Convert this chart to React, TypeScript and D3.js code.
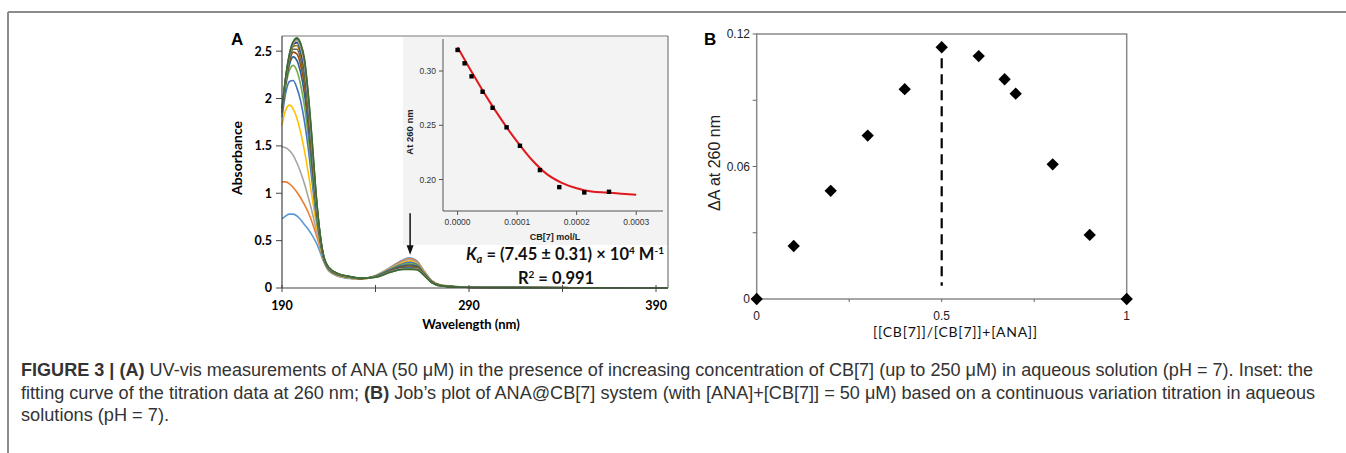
import React from 'react';
import * as d3 from 'd3';

// ---- panel A: UV-vis spectra (nm, absorbance) ----
const wavelengths = [190, 192, 194, 196, 198, 200, 202, 204, 206, 208, 210, 212, 215, 220, 226, 232, 240, 248, 254, 258, 262, 266, 270, 275, 285, 300, 396];

const absorbanceSeries: number[][] = [
  [0.73, 0.76, 0.78, 0.78, 0.76, 0.72, 0.67, 0.62, 0.56, 0.49, 0.40, 0.29, 0.18, 0.125, 0.10, 0.093, 0.13, 0.22, 0.29, 0.32, 0.29, 0.18, 0.08, 0.03, 0.012, 0.006, 0],
  [1.12, 1.12, 1.10, 1.06, 1.01, 0.95, 0.88, 0.80, 0.70, 0.58, 0.45, 0.31, 0.185, 0.128, 0.103, 0.095, 0.13, 0.215, 0.28, 0.31, 0.28, 0.175, 0.078, 0.03, 0.012, 0.006, 0],
  [1.49, 1.48, 1.45, 1.40, 1.32, 1.22, 1.10, 0.96, 0.81, 0.64, 0.48, 0.32, 0.19, 0.13, 0.106, 0.097, 0.13, 0.21, 0.27, 0.30, 0.27, 0.17, 0.075, 0.029, 0.012, 0.006, 0],
  [1.72, 1.88, 1.93, 1.89, 1.79, 1.64, 1.45, 1.22, 0.97, 0.72, 0.50, 0.325, 0.193, 0.133, 0.108, 0.098, 0.128, 0.205, 0.26, 0.285, 0.26, 0.165, 0.072, 0.028, 0.011, 0.005, 0],
  [1.80, 2.06, 2.18, 2.19, 2.11, 1.97, 1.76, 1.48, 1.14, 0.80, 0.53, 0.33, 0.196, 0.136, 0.11, 0.099, 0.126, 0.2, 0.25, 0.27, 0.25, 0.16, 0.07, 0.027, 0.011, 0.005, 0],
  [1.84, 2.13, 2.30, 2.35, 2.29, 2.14, 1.92, 1.60, 1.22, 0.85, 0.55, 0.335, 0.2, 0.138, 0.112, 0.1, 0.124, 0.195, 0.24, 0.255, 0.24, 0.155, 0.068, 0.026, 0.01, 0.005, 0],
  [1.85, 2.16, 2.36, 2.44, 2.40, 2.27, 2.05, 1.72, 1.31, 0.90, 0.57, 0.34, 0.203, 0.141, 0.114, 0.1, 0.122, 0.19, 0.232, 0.243, 0.232, 0.15, 0.066, 0.025, 0.01, 0.005, 0],
  [1.86, 2.18, 2.39, 2.49, 2.47, 2.35, 2.14, 1.80, 1.37, 0.94, 0.58, 0.345, 0.205, 0.143, 0.116, 0.101, 0.12, 0.185, 0.225, 0.233, 0.224, 0.147, 0.064, 0.025, 0.01, 0.005, 0],
  [1.86, 2.19, 2.41, 2.52, 2.52, 2.41, 2.21, 1.86, 1.42, 0.96, 0.59, 0.35, 0.207, 0.145, 0.117, 0.101, 0.119, 0.181, 0.218, 0.225, 0.217, 0.144, 0.063, 0.024, 0.01, 0.005, 0],
  [1.87, 2.20, 2.43, 2.55, 2.56, 2.46, 2.26, 1.91, 1.46, 0.98, 0.60, 0.352, 0.209, 0.146, 0.118, 0.102, 0.118, 0.178, 0.212, 0.218, 0.211, 0.141, 0.062, 0.024, 0.01, 0.005, 0],
  [1.87, 2.21, 2.44, 2.57, 2.59, 2.50, 2.31, 1.95, 1.49, 1.00, 0.61, 0.355, 0.211, 0.148, 0.119, 0.102, 0.117, 0.175, 0.207, 0.212, 0.206, 0.139, 0.061, 0.023, 0.01, 0.005, 0],
  [1.88, 2.22, 2.45, 2.58, 2.61, 2.53, 2.35, 1.99, 1.52, 1.02, 0.62, 0.357, 0.213, 0.149, 0.12, 0.103, 0.116, 0.172, 0.203, 0.207, 0.202, 0.137, 0.06, 0.023, 0.01, 0.005, 0],
  [1.88, 2.22, 2.46, 2.59, 2.62, 2.55, 2.38, 2.02, 1.55, 1.03, 0.62, 0.36, 0.215, 0.15, 0.121, 0.103, 0.115, 0.17, 0.2, 0.203, 0.199, 0.135, 0.059, 0.023, 0.01, 0.005, 0],
  [1.89, 2.23, 2.47, 2.60, 2.63, 2.57, 2.40, 2.04, 1.57, 1.04, 0.63, 0.362, 0.216, 0.151, 0.122, 0.104, 0.115, 0.168, 0.197, 0.2, 0.196, 0.134, 0.058, 0.022, 0.01, 0.005, 0],
  [1.89, 2.23, 2.47, 2.60, 2.64, 2.58, 2.42, 2.06, 1.59, 1.05, 0.63, 0.364, 0.218, 0.152, 0.123, 0.104, 0.114, 0.166, 0.195, 0.197, 0.194, 0.133, 0.058, 0.022, 0.01, 0.005, 0],
];

const seriesColors = ['#5B9BD5', '#ED7D31', '#A5A5A5', '#FFC000', '#4472C4', '#70AD47', '#255E91', '#9E480E', '#636363', '#997300', '#264478', '#7CAFDD', '#F1975A', '#2E8B8B', '#43682B'];

const specXTicks = [190, 240, 290, 340, 390];
const specXLabels = [190, 290, 390];
const specYTicks = [0, 0.5, 1, 1.5, 2, 2.5];

// ---- inset: titration at 260 nm ----
const titrationConc = [0, 0.0000118, 0.0000235, 0.000042, 0.0000588, 0.0000823, 0.0001047, 0.0001383, 0.0001708, 0.0002128, 0.0002543];
const titrationAbs = [0.3194, 0.3071, 0.2951, 0.2809, 0.2661, 0.2481, 0.2311, 0.2087, 0.193, 0.1881, 0.1887];
const fitConc = [0, 0.000025, 0.00005, 0.000075, 0.0001, 0.000125, 0.00015, 0.000175, 0.0002, 0.000225, 0.00025, 0.000275, 0.0003];
const fitAbs = [0.322, 0.298, 0.275, 0.254, 0.235, 0.218, 0.205, 0.197, 0.192, 0.189, 0.188, 0.187, 0.186];
const insetXTicks = [0, 0.0001, 0.0002, 0.0003];
const insetYTicks = [0.2, 0.25, 0.3];

// ---- panel B: Job's plot ----
const jobFraction = [0, 0.1, 0.2, 0.3, 0.4, 0.5, 0.6, 0.67, 0.7, 0.8, 0.9, 1];
const jobDeltaA = [0, 0.024, 0.049, 0.074, 0.095, 0.114, 0.110, 0.0995, 0.093, 0.061, 0.029, 0];
const jobXTicks = [0, 0.25, 0.5, 0.75, 1];
const jobXLabels = [0, 0.5, 1];
const jobYTicks = [0, 0.03, 0.06, 0.09, 0.12];
const jobYLabels = [0, 0.06, 0.12];
const jobLine = { x: 0.5, y0: 0.006, y1: 0.109 };

const bold = 'Lato, "Open Sans", sans-serif';
const arial = '"Liberation Sans", Arial, sans-serif';
const narrow = '"Liberation Sans Narrow", "Liberation Sans", Arial, sans-serif';

const PanelA = () => {
  const x = d3.scaleLinear().domain([190, 396.4]).range([282, 668]);
  const y = d3.scaleLinear().domain([0, 2.66]).range([288, 36]);
  const line = d3.line<number>()
    .x((_, i) => x(wavelengths[i]))
    .y(d => y(d))
    .curve(d3.curveMonotoneX);

  const ix = d3.scaleLinear().domain([-0.0000245, 0.000345]).range([443, 663]);
  const iy = d3.scaleLinear().domain([0.171, 0.3295]).range([211, 39]);
  const fit = d3.line<number>()
    .x((_, i) => ix(fitConc[i]))
    .y(d => iy(d))
    .curve(d3.curveMonotoneX);

  const arrowX = x(258.5);
  return (
    <g>
      <text x={231} y={45} fontFamily={arial} fontWeight="bold" fontSize={17}>A</text>
      {/* inset background */}
      <rect x={403} y={37} width={264} height={208} fill="#f3f3f3" />
      {absorbanceSeries.map((s, k) => (
        <path key={k} d={line(s) || ''} fill="none" stroke={seriesColors[k]} strokeWidth={1.6} />
      ))}
      {/* box */}
      <line x1={282} x2={668} y1={36} y2={36} stroke="#777" strokeWidth={1.2} />
      <line x1={668} x2={668} y1={36} y2={288} stroke="#777" strokeWidth={1.2} />
      <line x1={282} x2={282} y1={36} y2={288} stroke="#444" strokeWidth={1.2} />
      <line x1={282} x2={668} y1={288} y2={288} stroke="#444" strokeWidth={1.2} />
      {specYTicks.map(t => (
        <g key={t}>
          <line x1={276} x2={282} y1={y(t)} y2={y(t)} stroke="#444" />
          <text x={272} y={y(t)} dy="0.35em" textAnchor="end" fontFamily={bold} fontWeight="bold" fontSize={12.5}>{t}</text>
        </g>
      ))}
      {specXTicks.map(t => (
        <line key={t} x1={x(t)} x2={x(t)} y1={285} y2={292} stroke="#444" />
      ))}
      {specXLabels.map(t => (
        <text key={t} x={x(t)} y={310} textAnchor="middle" fontFamily={bold} fontWeight="bold" fontSize={12.5}>{t}</text>
      ))}
      <text transform="translate(242,158) rotate(-90)" textAnchor="middle" fontFamily={bold} fontWeight="bold" fontSize={14}>Absorbance</text>
      <text x={471} y={329} textAnchor="middle" fontFamily={bold} fontWeight="bold" fontSize={13}>Wavelength (nm)</text>

      {/* arrow */}
      <line x1={arrowX} x2={arrowX} y1={y(0.79)} y2={y(0.42)} stroke="#111" strokeWidth={1.5} />
      <path d={`M${arrowX - 3.5},${y(0.45)} L${arrowX + 3.5},${y(0.45)} L${arrowX},${y(0.35)} Z`} fill="#111" />

      {/* inset */}
      <line x1={443} x2={443} y1={39} y2={211} stroke="#555" />
      <line x1={443} x2={663} y1={211} y2={211} stroke="#555" />
      {insetYTicks.map(t => (
        <g key={t}>
          <line x1={439} x2={443} y1={iy(t)} y2={iy(t)} stroke="#555" />
          <text x={436} y={iy(t)} dy="0.35em" textAnchor="end" fontFamily={arial} fontSize={8.5} fill="#333">{d3.format('.2f')(t)}</text>
        </g>
      ))}
      {insetXTicks.map(t => (
        <g key={t}>
          <line x1={ix(t)} x2={ix(t)} y1={211} y2={215} stroke="#555" />
          <text x={ix(t)} y={225} textAnchor="middle" fontFamily={arial} fontSize={8.5} fill="#333">{d3.format('.4f')(t)}</text>
        </g>
      ))}
      <text transform="translate(413,132) rotate(-90)" textAnchor="middle" fontFamily={arial} fontWeight="bold" fontSize={9.5} fill="#222">At 260 nm</text>
      <text x={555} y={240} textAnchor="middle" fontFamily={arial} fontWeight="bold" fontSize={9} fill="#222">CB[7] mol/L</text>
      <path d={fit(fitAbs) || ''} fill="none" stroke="#e0181c" strokeWidth={2} />
      {titrationConc.map((c, i) => (
        <rect key={i} x={ix(c) - 2.2} y={iy(titrationAbs[i]) - 2.2} width={4.4} height={4.4} fill="#000" />
      ))}

      <text x={466} y={260} fontFamily={bold} fontWeight="bold" fontSize={16.5} textLength={198} fill="#111">
        <tspan fontStyle="italic">K</tspan>
        <tspan fontStyle="italic" fontSize={11} dy={3}>a</tspan>
        <tspan dy={-3}> = (7.45 ± 0.31) × 10</tspan>
        <tspan fontSize={10} dy={-6}>4</tspan>
        <tspan dy={6}>  M</tspan>
        <tspan fontSize={10} dy={-6}>-1</tspan>
      </text>
      <text x={556} y={284} textAnchor="middle" fontFamily={bold} fontWeight="bold" fontSize={16.5} fill="#111">
        R<tspan fontSize={10} dy={-6}>2</tspan><tspan dy={6}> = 0.991</tspan>
      </text>
    </g>
  );
};

const PanelB = () => {
  const x = d3.scaleLinear().domain([0, 1]).range([756.7, 1126.7]);
  const y = d3.scaleLinear().domain([0, 0.12]).range([299, 34]);
  const diamond = d3.symbol(d3.symbolSquare, 76)() || '';
  return (
    <g>
      <text x={704} y={45} fontFamily={arial} fontWeight="bold" fontSize={17}>B</text>
      <rect x={x(0)} y={y(0.12)} width={x(1) - x(0)} height={y(0) - y(0.12)} fill="none" stroke="#8a8a8a" strokeWidth={1.5} />
      {jobYTicks.map(t => (
        <line key={t} x1={x(0) - 4} x2={x(0)} y1={y(t)} y2={y(t)} stroke="#666" />
      ))}
      {jobYLabels.map(t => (
        <text key={t} x={750} y={y(t)} dy="0.35em" textAnchor="end" fontFamily={arial} fontSize={12} fill="#222">{t}</text>
      ))}
      {jobXTicks.map(t => (
        <line key={t} x1={x(t)} x2={x(t)} y1={y(0)} y2={y(0) + 3} stroke="#666" />
      ))}
      {jobXLabels.map(t => (
        <text key={t} x={x(t)} y={320} textAnchor="middle" fontFamily={arial} fontSize={12} fill="#222">{t}</text>
      ))}
      <text transform="translate(720,163) rotate(-90)" textAnchor="middle" fontFamily={arial} fontSize={16} fill="#222">ΔA at 260 nm</text>
      <text x={955} y={337} textAnchor="middle" fontFamily={bold} fontSize={14} textLength={164} fill="#111">[[CB[7]]/[CB[7]]+[ANA]]</text>
      <line x1={x(jobLine.x)} x2={x(jobLine.x)} y1={y(jobLine.y1)} y2={y(jobLine.y0)} stroke="#000" strokeWidth={2.2} strokeDasharray="10,6" />
      {jobFraction.map((f, i) => (
        <path key={i} d={diamond} transform={`translate(${x(f)},${y(jobDeltaA[i])}) rotate(45)`} fill="#000" />
      ))}
    </g>
  );
};

const Caption = () => (
  <g fontFamily={narrow} fontSize={17.5} fill="#333">
    <text x={21} y={376} textLength={1292} lengthAdjust="spacingAndGlyphs">
      <tspan fontWeight="bold">FIGURE 3 | (A)</tspan> UV-vis measurements of ANA (50 μM) in the presence of increasing concentration of CB[7] (up to 250 μM) in aqueous solution (pH = 7). Inset: the
    </text>
    <text x={21} y={399} textLength={1294} lengthAdjust="spacingAndGlyphs">
      fitting curve of the titration data at 260 nm; <tspan fontWeight="bold">(B)</tspan> Job’s plot of ANA@CB[7] system (with [ANA]+[CB[7]] = 50 μM) based on a continuous variation titration in aqueous
    </text>
    <text x={21} y={421} textLength={148} lengthAdjust="spacingAndGlyphs">solutions (pH = 7).</text>
  </g>
);

export default function App() {
  return (
    <svg width={1346} height={453} style={{ position: 'absolute', left: 0, top: 0, background: '#fff' }}>
      <line x1={8} x2={1346} y1={12} y2={12} stroke="#8c8c8c" strokeWidth={2} />
      <line x1={8} x2={8} y1={12} y2={453} stroke="#8c8c8c" strokeWidth={2} />
      <PanelA />
      <PanelB />
      <Caption />
    </svg>
  );
}
